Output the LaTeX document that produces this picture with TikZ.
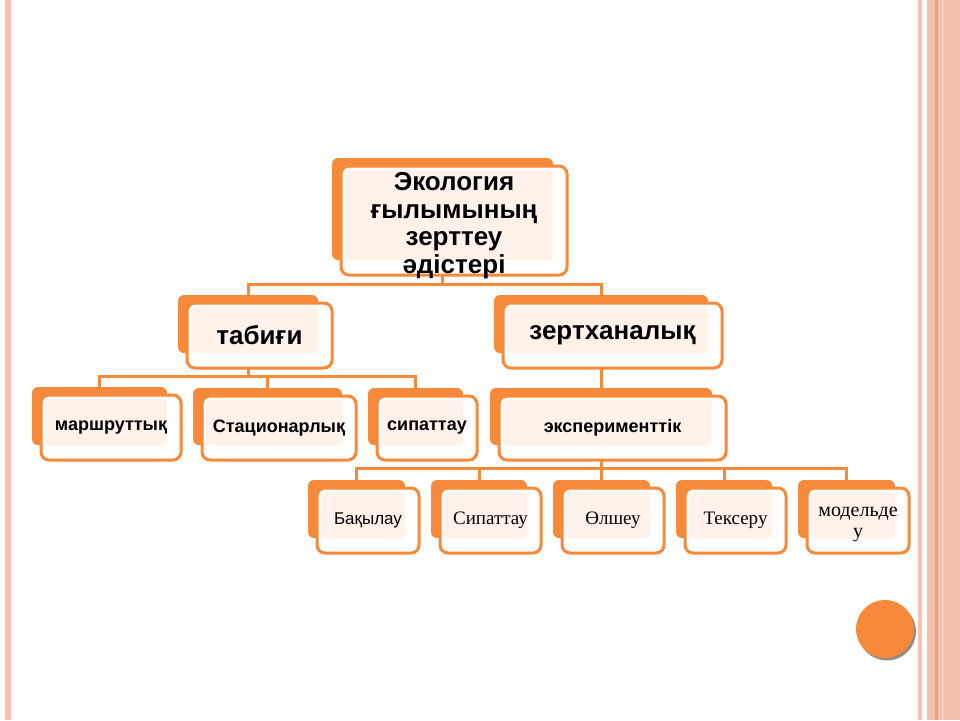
\documentclass[tikz,border=0pt]{standalone}
\usepackage{fontspec}
\setmainfont{Liberation Sans}
\newfontfamily\timesf{Liberation Serif}
\definecolor{orng}{RGB}{247,137,58}
\definecolor{peach}{RGB}{254,242,234}
\definecolor{stripe}{RGB}{251,192,176}
\definecolor{band}{RGB}{243,192,174}
\definecolor{bandline}{RGB}{236,160,130}
\definecolor{bandlight}{RGB}{246,204,190}
\definecolor{shadowc}{RGB}{150,140,130}
\tikzset{
  backbox/.style={rectangle, rounded corners=6pt, fill=orng, inner sep=0pt, outer sep=0pt},
  frontbox/.style={rectangle, rounded corners=8pt, draw=orng, line width=3pt, inner sep=0pt, outer sep=0pt},
  conn/.style={draw=orng, line width=3pt},
  lvA/.style={font=\fontsize{26}{27.7}\selectfont\bfseries, align=center},
  lvB/.style={font=\fontsize{18}{21}\selectfont\bfseries, align=center},
  lvC/.style={font=\fontsize{17}{21}\selectfont, align=center},
  lvD/.style={font=\fontsize{19}{21}\selectfont\timesf, align=center},
  lvE/.style={font=\fontsize{20}{21}\selectfont\timesf, align=center}
}
\newcommand\twobox[5]{%
  \node[backbox, minimum width={(#4-#2)*1pt}, minimum height={(#5-#3)*1pt}] (#1b) at ({(#2+#4)/2},{(#3+#5)/2}) {};
  \fill[white, rounded corners=8pt] ({#2+9},{#3+8}) rectangle ({#4+14},{#5+15});
  \fill[peach, rounded corners=4pt] ({#2+13},{#3+12}) rectangle (#4,#5);
  \node[frontbox, minimum width={(#4-#2+5)*1pt}, minimum height={(#5-#3+7)*1pt}] (#1) at ({(#2+#4)/2+11.5},{(#3+#5)/2+11.5}) {};
}
\begin{document}
\begin{tikzpicture}[x=1pt,y=-1pt]
\useasboundingbox (0,0) rectangle (960,720);
\fill[white] (0,0) rectangle (960,720);
% side decorations
\fill[stripe] (5,0) rectangle (11,720);
\fill[stripe] (918,0) rectangle (922,720);
\fill[band] (927,0) rectangle (960,720);
\fill[bandline] (935,0) rectangle (937.5,720);
\fill[bandlight] (942,0) rectangle (944,720);
% boxes
\twobox{root}{332}{158}{553}{260}
\twobox{tab}{178}{295}{318}{353}
\twobox{zert}{494}{295}{708}{353}
\twobox{mar}{32}{387}{167}{445}
\twobox{stac}{193}{388}{342}{445}
\twobox{sip}{368}{388}{463}{445}
\twobox{eksp}{490}{388}{712}{445}
\twobox{bak}{308}{480}{405}{538}
\twobox{sipt}{431}{480}{527}{538}
\twobox{olsh}{553}{480}{650}{538}
\twobox{teks}{676}{480}{772}{538}
\twobox{mod}{798}{480}{895}{538}
% texts
\node[lvA] (rootT) at ([yshift=-5pt]root.center) {Экология\\ғылымының\\зерттеу\\әдістері};
\node[lvA] (tabT) at (tab.center) {табиғи};
\node[lvA] (zertT) at (zert.center) {зертханалық};
\node[lvB] (marT) at (mar.center) {маршруттық};
\node[lvB] (stacT) at (stac.center) {Стационарлық};
\node[lvB] (sipT) at (sip.center) {сипаттау};
\node[lvB] (ekspT) at (eksp.center) {эксперименттік};
\node[lvC] (bakT) at (bak.center) {Бақылау};
\node[lvD] (siptT) at (sipt.center) {Сипаттау};
\node[lvD] (olshT) at (olsh.center) {Өлшеу};
\node[lvD] (teksT) at (teks.center) {Тексеру};
\node[lvE] (modT) at ([yshift=-4pt]mod.center) {модельде\\у};
% connectors
\coordinate (bus1) at (0,284);
\coordinate (bus2) at (0,376);
\coordinate (bus3) at (0,468);
\draw[conn] (rootb.south |- root.south) -- (rootb.south |- bus1) -| (tabb.north);
\draw[conn] (rootb.south |- bus1) -| (zertb.north);
\draw[conn] (tabb.south |- tab.south) -- (tabb.south |- bus2);
\draw[conn] (marb.north) |- (sipb.north |- bus2) -- (sipb.north);
\draw[conn] (stacb.north |- bus2) -- (stacb.north);
\draw[conn] (zertb.south |- zert.south) -- (ekspb.north);
\draw[conn] (ekspb.south |- eksp.south) -- (ekspb.south |- bus3);
\draw[conn] (bakb.north) |- (modb.north |- bus3) -- (modb.north);
\draw[conn] (siptb.north |- bus3) -- (siptb.north);
\draw[conn] (olshb.north |- bus3) -- (olshb.north);
\draw[conn] (teksb.north |- bus3) -- (teksb.north);
% round button
\fill[shadowc] (887,631.5) circle (29);
\node[circle, fill=orng, minimum size=58pt, inner sep=0pt] (btn) at (885,629) {};
\end{tikzpicture}
\end{document}
